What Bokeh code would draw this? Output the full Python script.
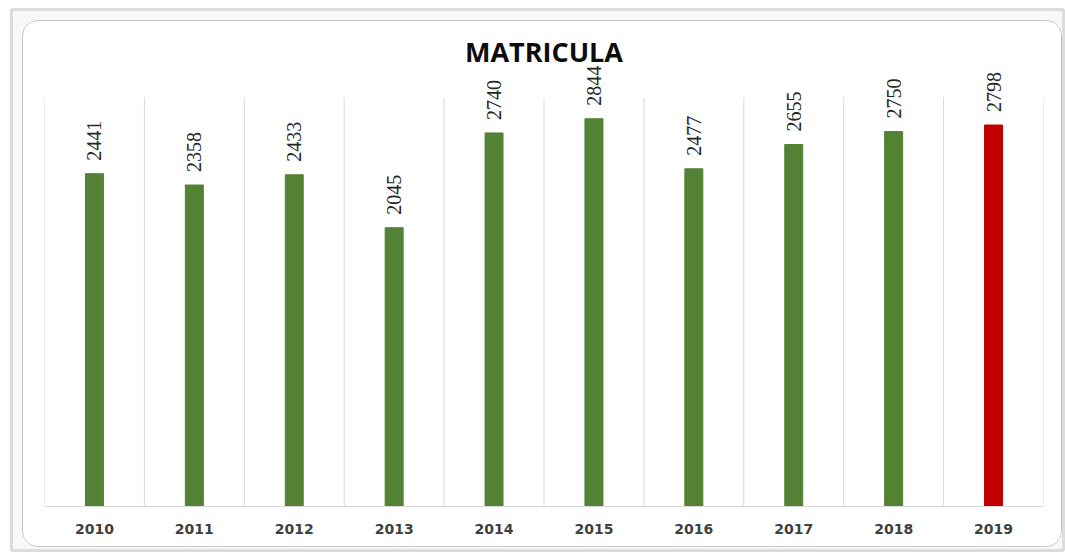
import math
from bokeh.plotting import figure
from bokeh.layouts import column
from bokeh.models import FactorRange, Range1d, ColumnDataSource, Label
from bokeh.embed import file_html
from bokeh.resources import INLINE
from bokeh.core.properties import value

# ---- data ----
years = ["2010", "2011", "2012", "2013", "2014", "2015", "2016", "2017", "2018", "2019"]
matricula = [2441, 2358, 2433, 2045, 2740, 2844, 2477, 2655, 2750, 2798]
bar_colors = ["#548235"] * 9 + ["#C00000"]
labels = [str(v) for v in matricula]
title_text = "MATRICULA"
y_axis_max = 3000

src = ColumnDataSource(dict(year=years, val=matricula, color=bar_colors, label=labels))

p = figure(
    width=1040, height=527,
    x_range=FactorRange(factors=years, range_padding=0),
    y_range=Range1d(0, 3484),
    output_backend="svg", toolbar_location=None,
    y_axis_location=None,
    min_border_left=21, min_border_right=20, min_border_top=10, min_border_bottom=42,
)
p.margin = (9, 0, 0, 9)
p.styles = {"border": "1.5px solid #c4c4c4", "border-radius": "16px", "overflow": "hidden",
            "background-color": "white"}
p.border_fill_color = "white"
p.background_fill_color = "white"
p.outline_line_color = None
p.grid.visible = False

# vertical gridlines at category boundaries (0 .. y_axis_max)
bounds = list(range(len(years) + 1))
p.segment(x0=bounds, y0=[0] * len(bounds), x1=bounds, y1=[y_axis_max] * len(bounds),
          line_color="#d9d9d9", line_width=1)

p.vbar(x="year", top="val", width=0.18, color="color", source=src)

p.text(x="year", y="val", text="label", source=src, angle=math.pi / 2,
       text_align="left", text_baseline="middle", y_offset=-13,
       text_font=value("Liberation Sans Narrow"), text_font_size="20px", text_color="#262626")

p.add_layout(Label(x=len(years) / 2, y=3335, text=title_text, text_align="center", text_baseline="middle",
                   text_font="Open Sans", text_font_style="bold", text_font_size="27px",
                   text_color="#0d0d0d"))

p.xaxis.axis_line_color = "#d9d9d9"
p.xaxis.major_tick_line_color = None
p.xaxis.minor_tick_line_color = None
p.xaxis.major_label_text_font = "DejaVu Sans"
p.xaxis.major_label_text_font_style = "bold"
p.xaxis.major_label_text_font_size = "14px"
p.xaxis.major_label_text_color = "#404040"
p.xaxis.major_label_standoff = 11

lay = column(p, width=1055, height=544, margin=(8, 0, 0, 10),
             styles={"border": "3px solid #dcdcdc", "background-color": "#f8f8f8", "border-radius": "3px"})

open("out.html", "w").write(file_html(lay, INLINE))
